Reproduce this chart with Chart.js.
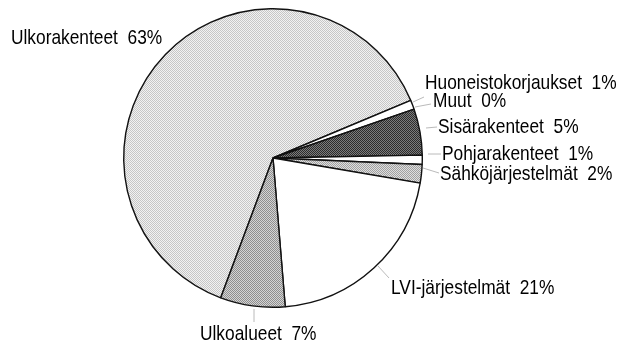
<!DOCTYPE html>
<html>
<head>
<meta charset="utf-8">
<script src="https://cdn.jsdelivr.net/npm/chart.js@4"></script>
<style>
  html, body { margin: 0; padding: 0; background: #fff; }
  canvas { display: block; }
</style>
</head>
<body>
<canvas id="costChart" width="618" height="341"></canvas>
<script>
const categories = [
  "Ulkorakenteet",
  "Huoneistokorjaukset",
  "Muut",
  "Sisärakenteet",
  "Pohjarakenteet",
  "Sähköjärjestelmät",
  "LVI-järjestelmät",
  "Ulkoalueet"
];
const shares = [63, 1, 0, 5, 1, 2, 21, 7];

// label anchors: left x, baseline y, and the short leader line
const labelSpots = [
  { x: 11,  y: 44,  line: null },
  { x: 425, y: 89,  line: [413, 102, 424, 97] },
  { x: 433, y: 107, line: [415, 107, 431, 104] },
  { x: 438, y: 133, line: [426, 128, 437, 127] },
  { x: 442, y: 160, line: [428, 154, 441, 154] },
  { x: 440, y: 180, line: [423, 168, 439, 173] },
  { x: 391, y: 294, line: [378, 266, 389, 278] },
  { x: 200, y: 340, line: [254, 309, 254, 322] }
];

// small dithered fills, like a halftone print
const dots = (a, b) => {
  const c = document.createElement("canvas");
  c.width = 2;
  c.height = 2;
  const g = c.getContext("2d");
  g.fillStyle = a;
  g.fillRect(0, 0, 2, 2);
  g.fillStyle = b;
  g.fillRect(0, 0, 1, 1);
  g.fillRect(1, 1, 1, 1);
  return g.createPattern(c, "repeat");
};

const fills = [
  dots("#f2f2f2", "#c6c6c6"),
  "#ffffff",
  "#000000",
  dots("#7c7c7c", "#2c2c2c"),
  "#ffffff",
  dots("#dedede", "#a0a0a0"),
  "#ffffff",
  dots("#d4d4d4", "#8e8e8e")
];

const sliceLabels = {
  id: "sliceLabels",
  afterDraw(chart) {
    const ctx = chart.ctx;
    ctx.save();
    ctx.strokeStyle = "#a8a8a8";
    ctx.lineWidth = 0.8;
    labelSpots.forEach((s) => {
      if (!s.line) return;
      ctx.beginPath();
      ctx.moveTo(s.line[0], s.line[1]);
      ctx.lineTo(s.line[2], s.line[3]);
      ctx.stroke();
    });
    ctx.fillStyle = "#000";
    ctx.font = "21px 'Liberation Sans', Arial, sans-serif";
    ctx.textBaseline = "alphabetic";
    categories.forEach((name, i) => {
      const s = labelSpots[i];
      ctx.save();
      ctx.translate(s.x, s.y);
      ctx.scale(0.825, 1);
      ctx.fillText(name + "  " + shares[i] + "%", 0, 0);
      ctx.restore();
    });
    ctx.restore();
  }
};

new Chart(document.getElementById("costChart"), {
  type: "pie",
  data: {
    labels: categories,
    datasets: [
      {
        data: shares,
        backgroundColor: fills,
        borderColor: "#111",
        borderWidth: 1.4
      }
    ]
  },
  options: {
    responsive: false,
    animation: false,
    rotation: 200.5,
    layout: {
      padding: { left: 0, right: 72, top: 8, bottom: 33 }
    },
    plugins: {
      legend: { display: false },
      tooltip: { enabled: false }
    }
  },
  plugins: [sliceLabels]
});
</script>
</body>
</html>
